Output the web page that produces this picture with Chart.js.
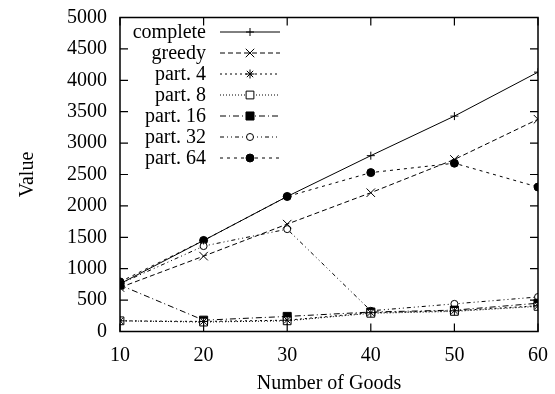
<!DOCTYPE html>
<html>
<head>
<meta charset="utf-8">
<script src="https://cdn.jsdelivr.net/npm/chart.js@4/dist/chart.umd.min.js"></script>
<style>
  html, body { margin: 0; padding: 0; background: #fff; }
  #wrap { width: 555px; height: 394px; }
</style>
</head>
<body>
<div id="wrap"><canvas id="goodsChart"></canvas></div>
<script>
// values
const goods = [10, 20, 30, 40, 50, 60];
const complete = [760, 1450, 2150, 2800, 3430, 4130];
const greedy = [700, 1200, 1710, 2210, 2740, 3380];
const part4 = [170, 160, 180, 300, 330, 410];
const part8 = [170, 150, 170, 290, 320, 400];
const part16 = [740, 180, 240, 310, 340, 450];
const part32 = [760, 1360, 1630, 330, 440, 550];
const part64 = [790, 1450, 2150, 2530, 2680, 2300];

const serif = "'Liberation Serif', serif";

function pts(vals){
    return goods.map((g,i)=>({x:g, y:vals[i]}));
}

function series(label, vals, dash, style, radius, filled){
    return {
        label: label,
        data: pts(vals),
        borderColor: '#000',
        borderWidth: 1,
        borderDash: dash,
        pointStyle: style,
        pointRadius: radius,
        pointBorderWidth: 1,
        pointBorderColor: '#000',
        pointBackgroundColor: filled ? '#000' : '#fff',
        fill: false,
        tension: 0
    };
}

const datasets = [
    series('complete', complete, [], 'cross', 4, false),
    series('greedy', greedy, [5,3], 'crossRot', 6, false),
    series('part. 4', part4, [2,3], 'star', 4.5, false),
    series('part. 8', part8, [1,2], 'rect', 5.5, false),
    series('part. 16', part16, [6,3,1,3], 'rect', 5.7, true),
    series('part. 32', part32, [4,3,1,3,1,3], 'circle', 3.5, false),
    series('part. 64', part64, [3,4], 'circle', 4, true)
];

// frame with gnuplot style inward ticks on all four sides
const framePlugin = {
    id: 'frame',
    afterDatasetsDraw(chart){
        const ctx = chart.ctx;
        const a = chart.chartArea;
        const xs = chart.scales.x, ys = chart.scales.y;
        ctx.save();
        ctx.strokeStyle = '#000';
        ctx.lineWidth = 1.5;
        ctx.strokeRect(a.left, a.top, a.right - a.left, a.bottom - a.top);
        ctx.lineWidth = 1.2;
        const len = 8;
        xs.ticks.forEach(t=>{
            const px = xs.getPixelForValue(t.value);
            ctx.beginPath();
            ctx.moveTo(px, a.bottom); ctx.lineTo(px, a.bottom - len);
            ctx.moveTo(px, a.top); ctx.lineTo(px, a.top + len);
            ctx.stroke();
        });
        ys.ticks.forEach(t=>{
            const py = ys.getPixelForValue(t.value);
            ctx.beginPath();
            ctx.moveTo(a.left, py); ctx.lineTo(a.left + len, py);
            ctx.moveTo(a.right, py); ctx.lineTo(a.right - len, py);
            ctx.stroke();
        });
        ctx.restore();
    }
};

// legend: right aligned text, sample line with marker on the right
const keyPlugin = {
    id: 'key',
    afterDraw(chart){
        const ctx = chart.ctx;
        ctx.save();
        ctx.font = '20px ' + serif;
        ctx.textAlign = 'right';
        ctx.textBaseline = 'middle';
        chart.data.datasets.forEach((ds,i)=>{
            const y = 32 + i * 21;
            ctx.fillStyle = '#000';
            ctx.fillText(ds.label, 206, y + 1);
            ctx.strokeStyle = '#000';
            ctx.lineWidth = 1;
            ctx.setLineDash(ds.borderDash);
            ctx.beginPath();
            ctx.moveTo(220, y); ctx.lineTo(280, y);
            ctx.stroke();
            ctx.setLineDash([]);
            ctx.fillStyle = ds.pointBackgroundColor;
            Chart.helpers.drawPoint(ctx, {
                pointStyle: ds.pointStyle,
                radius: ds.pointRadius,
                borderWidth: 1,
                rotation: 0
            }, 250, y);
        });
        ctx.restore();
    }
};

function makeChart(){
    new Chart(document.getElementById('goodsChart'), {
        type: 'line',
        data: { datasets: datasets },
        options: {
            responsive: true,
            maintainAspectRatio: false,
            animation: false,
            layout: { padding: { top: 17.5, right: 17, left: 0, bottom: 0 } },
            plugins: { legend: { display: false }, tooltip: { enabled: false } },
            scales: {
                x: {
                    type: 'linear',
                    min: 10, max: 60,
                    grid: { display: false, drawTicks: false },
                    border: { display: false },
                    ticks: { stepSize: 10, color: '#000', padding: 12, font: { family: serif, size: 20 },
                             callback: v => String(v) },
                    title: { display: true, text: 'Number of Goods', color: '#000', padding: 0,
                             font: { family: serif, size: 20, lineHeight: 1 } },
                    afterFit(scale){
                        scale.height = 62.5;
                        scale.paddingLeft = 0;
                        scale.paddingRight = 10;
                    }
                },
                y: {
                    min: 0, max: 5000,
                    grid: { display: false, drawTicks: false },
                    border: { display: false },
                    ticks: { stepSize: 500, color: '#000', padding: 13, font: { family: serif, size: 20 },
                             callback: v => String(v) },
                    title: { display: true, text: 'Value', color: '#000', padding: { top: 16, bottom: 0 },
                             font: { family: serif, size: 20, lineHeight: 1.2 } },
                    afterFit(scale){
                        scale.width = 120;
                        scale.paddingTop = 10;
                        scale.paddingBottom = 0;
                    }
                }
            }
        },
        plugins: [framePlugin, keyPlugin]
    });
}

document.fonts.load('20px "Liberation Serif"').then(makeChart, makeChart);
</script>
</body>
</html>
